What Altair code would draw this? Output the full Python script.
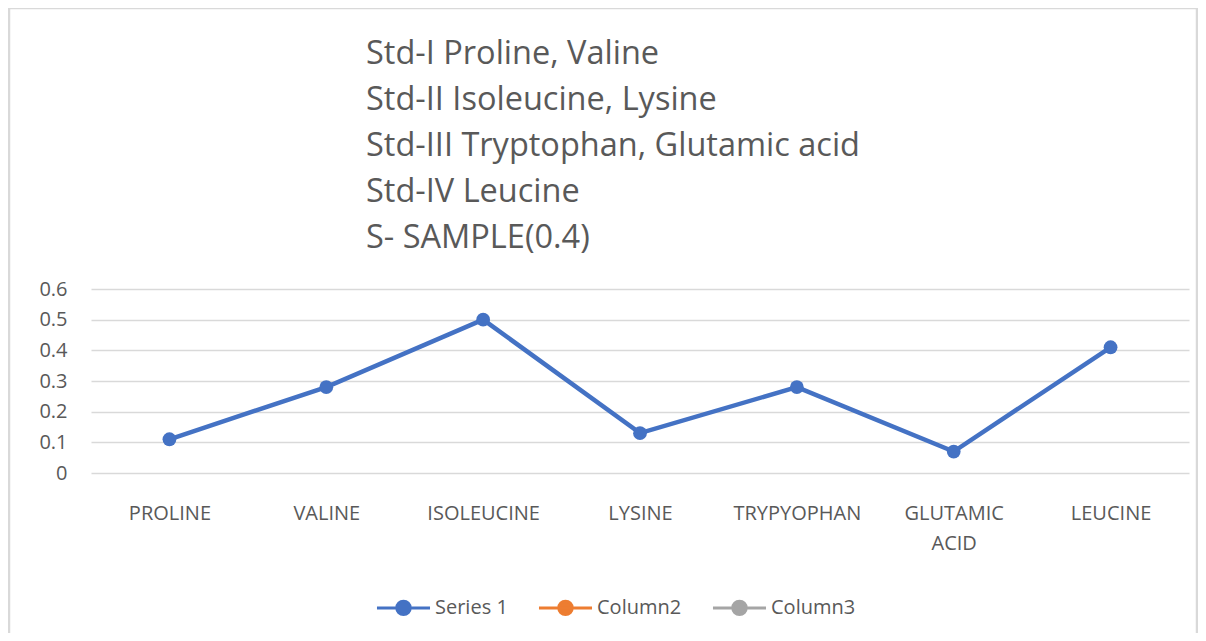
import altair as alt
import pandas as pd

categories = ["PROLINE", "VALINE", "ISOLEUCINE", "LYSINE", "TRYPYOPHAN", "GLUTAMIC ACID", "LEUCINE"]
values = [0.11, 0.28, 0.50, 0.13, 0.28, 0.07, 0.41]
series_names = ["Series 1", "Column2", "Column3"]
series_colors = ["#4472C4", "#ED7D31", "#A5A5A5"]
y_ticks = [0, 0.1, 0.2, 0.3, 0.4, 0.5, 0.6]
title_lines = [
    "Std-I Proline, Valine",
    "Std-II Isoleucine, Lysine",
    "Std-III Tryptophan, Glutamic acid",
    "Std-IV Leucine",
    "S- SAMPLE(0.4)",
]

df = pd.DataFrame({"cat": categories, "val": values, "series": ["Series 1"] * len(categories)})

FONT = "Open Sans"
GRAY = "#595959"
LBL = 20

sym_path = "M-1.5,0L1.5,0M0.38,0A0.38,0.38,0,1,1,-0.38,0A0.38,0.38,0,1,1,0.38,0Z"

color_scale = alt.Scale(domain=series_names, range=series_colors)
leg = alt.Legend(
    title=None,
    orient="none",
    legendX=293,
    legendY=299,
    direction="horizontal",
    symbolType=sym_path,
    symbolSize=1250,
    symbolStrokeWidth=3,
    labelFont=FONT,
    labelFontSize=LBL,
    labelColor=GRAY,
    labelOffset=12,
    columnPadding=24,
)

x_enc = alt.X(
    "cat:N",
    sort=categories,
    scale=alt.Scale(type="point", padding=0.5),
    axis=alt.Axis(
        title=None,
        labelAngle=0,
        labelFont=FONT,
        labelFontSize=LBL,
        labelColor=GRAY,
        labelPadding=30,
        labelExpr="split(datum.label, ' ')",
        labelLineHeight=30,
        ticks=False,
        domain=False,
        grid=False,
    ),
)
y_enc = alt.Y(
    "val:Q",
    scale=alt.Scale(domain=[0, 0.6], nice=False),
    axis=alt.Axis(
        title=None,
        values=y_ticks,
        format="~g",
        labelFont=FONT,
        labelFontSize=LBL,
        labelColor=GRAY,
        labelPadding=24,
        ticks=False,
        domain=False,
        grid=True,
        gridColor="#D9D9D9",
        gridWidth=1.5,
    ),
)

base_one = pd.DataFrame({"k": [0]})

frame = alt.Chart(base_one).mark_rect(
    fill="transparent", stroke="#D9D9D9", strokeWidth=2.5
).encode(
    x=alt.value(-82), x2=alt.value(1106), y=alt.value(-281), y2=alt.value(360)
)

title = alt.Chart(base_one).mark_text(
    text=title_lines,
    align="left",
    baseline="middle",
    lineHeight=46,
    font=FONT,
    fontSize=32.5,
    color=GRAY,
).encode(x=alt.value(275), y=alt.value(-235))

line = alt.Chart(df).mark_line(strokeWidth=4.5).encode(
    x=x_enc, y=y_enc, stroke=alt.Stroke("series:N", scale=color_scale, legend=leg)
)
points = alt.Chart(df).mark_point(filled=True, size=190, opacity=1).encode(
    x=x_enc, y=y_enc, fill=alt.Fill("series:N", scale=color_scale, legend=leg)
)

chart = alt.layer(frame, title, line, points).properties(
    width=1098,
    height=184,
    autosize=alt.AutoSizeParams(type="none"),
    padding={"left": 83, "top": 281, "right": 9, "bottom": 160},
).configure(background="white").configure_view(stroke=None)

chart.save("out.html", embed_options={"renderer": "svg", "actions": False})
